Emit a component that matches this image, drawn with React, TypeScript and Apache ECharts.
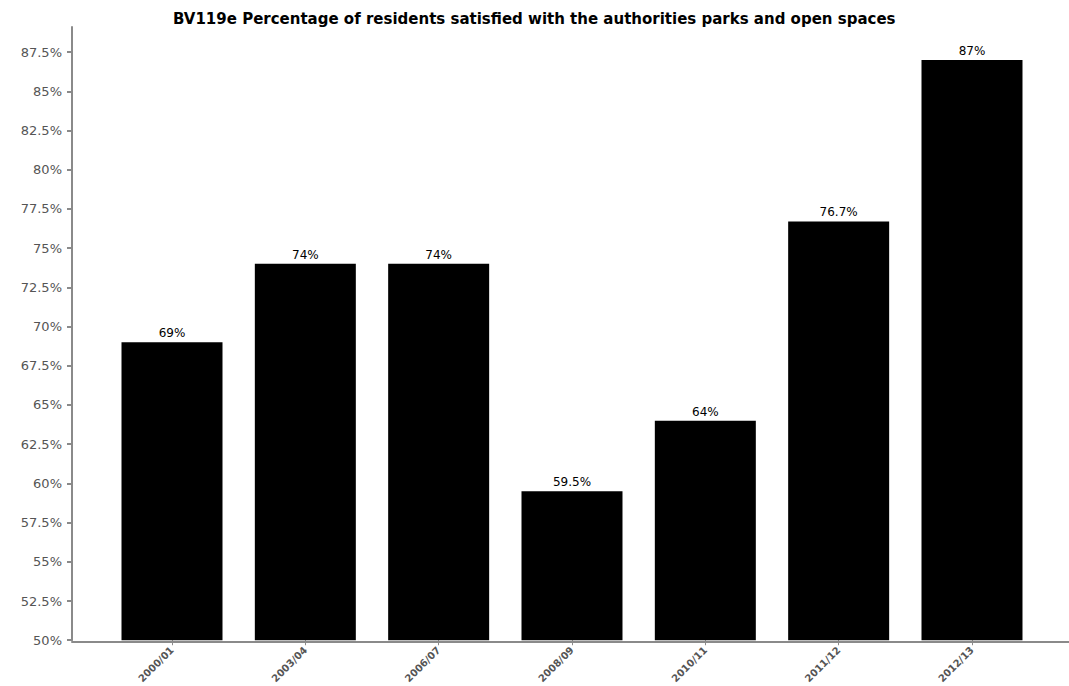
import React, { useEffect, useRef } from "react";
import * as echarts from "echarts";

const titleText = "BV119e Percentage of residents satisfied with the authorities parks and open spaces";
const categories = ["2000/01", "2003/04", "2006/07", "2008/09", "2010/11", "2011/12", "2012/13"];
const values = [69, 74, 74, 59.5, 64, 76.7, 87];
const valueLabels = ["69%", "74%", "74%", "59.5%", "64%", "76.7%", "87%"];
const yTicks = [50, 52.5, 55, 57.5, 60, 62.5, 65, 67.5, 70, 72.5, 75, 77.5, 80, 82.5, 85, 87.5];

export default function App() {
  const ref = useRef<HTMLDivElement>(null);
  useEffect(() => {
    if (!ref.current) return;
    const chart = echarts.init(ref.current, null, { renderer: "svg" });
    const axisGray = "#8a8a8a";
    chart.setOption({
      animation: false,
      backgroundColor: "#ffffff",
      title: {
        text: titleText,
        left: 168,
        top: 6,
        textStyle: { fontFamily: "DejaVu Sans", fontWeight: "bold", fontSize: 15, color: "#000" },
      },
      grid: [
        { left: 105.33, width: 933.33, top: 27, bottom: 44, containLabel: false },
        { left: 72, right: 0, top: 27, bottom: 44, containLabel: false },
      ],
      xAxis: [
        {
          type: "category",
          gridIndex: 0,
          data: categories,
          axisLine: { show: false },
          axisTick: { show: true, alignWithLabel: true, length: 5, lineStyle: { color: axisGray, width: 1 } },
          axisLabel: {
            rotate: 45,
            fontSize: 10,
            fontWeight: "bold",
            fontFamily: "DejaVu Sans",
            color: "#555",
            margin: 8,
          },
        },
        {
          type: "value",
          gridIndex: 1,
          min: 0,
          max: 1,
          axisLine: { show: true, lineStyle: { color: axisGray, width: 2 } },
          axisTick: { show: false },
          axisLabel: { show: false },
          splitLine: { show: false },
        },
      ],
      yAxis: [
        {
          type: "value",
          gridIndex: 0,
          min: 50,
          max: 89.1,
          offset: 33.33,
          axisLine: { show: true, lineStyle: { color: axisGray, width: 2 } },
          axisTick: { show: true, length: 5, customValues: yTicks, lineStyle: { color: axisGray, width: 2 } },
          axisLabel: {
            customValues: yTicks,
            formatter: (v: number) => `${v}%`,
            fontSize: 13,
            fontFamily: "DejaVu Sans",
            color: "#555",
            margin: 10,
          },
          splitLine: { show: false },
        },
        {
          type: "value",
          gridIndex: 1,
          show: false,
          min: 0,
          max: 1,
        },
      ],
      series: [
        {
          type: "bar",
          xAxisIndex: 0,
          yAxisIndex: 0,
          data: values,
          barWidth: 101,
          itemStyle: { color: "#000000" },
          label: {
            show: true,
            position: "top",
            distance: 3,
            fontSize: 12,
            fontFamily: "DejaVu Sans",
            color: "#000",
            formatter: (p: any) => valueLabels[p.dataIndex],
          },
        },
      ],
    });
    return () => chart.dispose();
  }, []);
  return (
    <div
      ref={ref}
      style={{ position: "fixed", left: 0, top: 0, width: 1069, height: 686, background: "#fff" }}
    />
  );
}
